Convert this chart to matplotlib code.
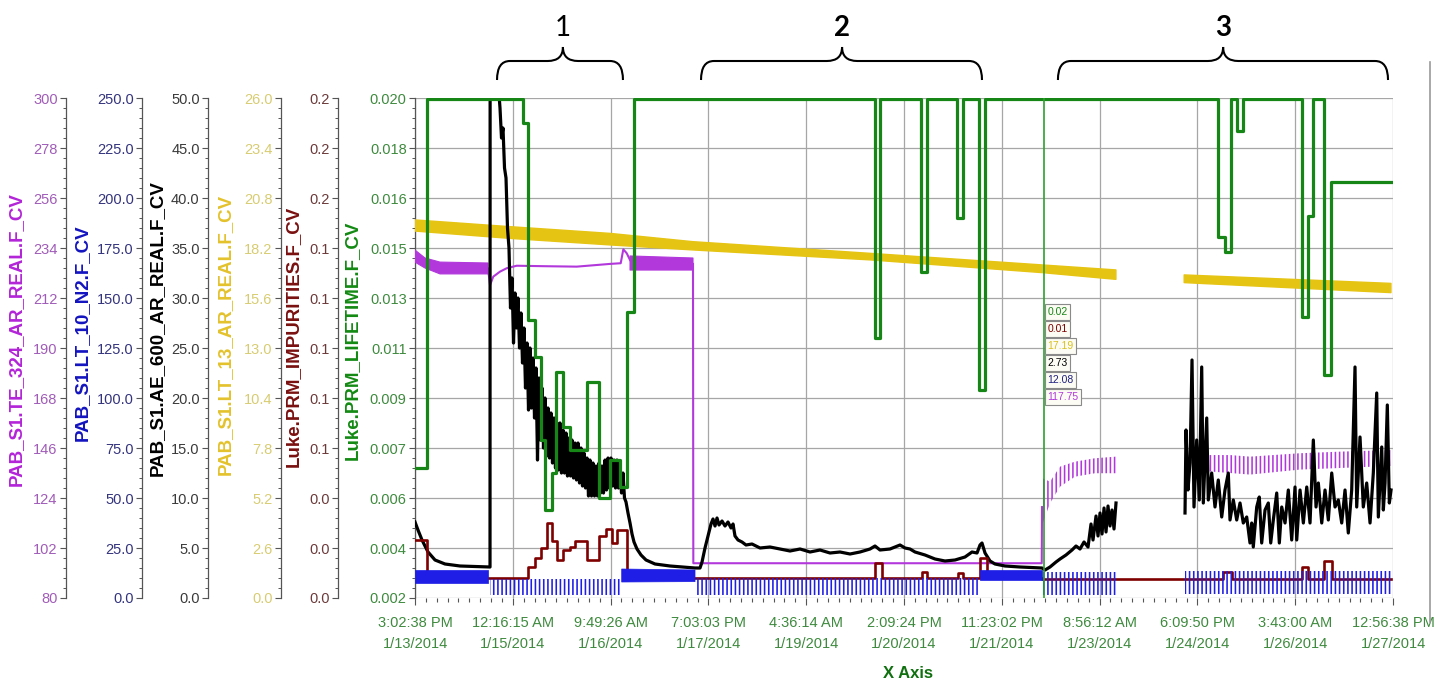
import numpy as np
import matplotlib
matplotlib.use("Agg")
import matplotlib.pyplot as plt
import matplotlib.transforms as mtransforms
from matplotlib.ticker import AutoMinorLocator, FormatStrFormatter
from matplotlib.path import Path
from matplotlib.patches import PathPatch
from matplotlib.lines import Line2D

plt.rcParams['font.family'] = ['Liberation Sans', 'DejaVu Sans']
plt.rcParams['hatch.linewidth'] = 1.15
nan = np.nan

# ---------------- x axis: hours since 1/13/2014 3:02:38 PM ----------------
x_span_hours = 333.9
x_tick_labels = ["3:02:38 PM\n1/13/2014", "12:16:15 AM\n1/15/2014", "9:49:26 AM\n1/16/2014",
                 "7:03:03 PM\n1/17/2014", "4:36:14 AM\n1/19/2014", "2:09:24 PM\n1/20/2014",
                 "11:23:02 PM\n1/21/2014", "8:56:12 AM\n1/23/2014", "6:09:50 PM\n1/24/2014",
                 "3:43:00 AM\n1/26/2014", "12:56:38 PM\n1/27/2014"]

# ---------------- y axis ranges ----------------
purple_range = (80, 300)
blue_range = (0, 250)
black_range = (0, 50)
yellow_range = (0, 26)
red_range = (0, 0.2)
green_range = (0.002, 0.020)

# ---------------- Luke.PRM_LIFETIME.F_CV (green, step) ----------------
green_t = [0, 4.10, 36.77, 38.68, 40.97, 42.92, 44.38, 46.67, 48.14, 50.43, 52.92, 58.62,
           62.82, 66.58, 69.99, 72.28, 74.77, 157.05, 158.76, 172.76, 174.81, 184.95, 186.99,
           192.56, 194.61, 274.25, 276.54, 278.59, 280.54, 282.79, 302.74, 304.79, 306.7,
           310.46, 312.74, 333.23]
green_v = [0.00669, 0.01995, 0.01911, 0.01201, 0.01069, 0.00769, 0.00517, 0.00649, 0.01015,
           0.00817, 0.00733, 0.00979, 0.00559, 0.00697, 0.00601, 0.01231, 0.01995, 0.01135,
           0.01995, 0.01375, 0.01995, 0.01567, 0.01995, 0.00949, 0.01995, 0.01501, 0.01447,
           0.01995, 0.01882, 0.01995, 0.01213, 0.01575, 0.01995, 0.01003, 0.01699, 0.01699]

# ---------------- Luke.PRM_IMPURITIES.F_CV (dark red, step) ----------------
red_t = [0, 3.99, 38.68, 40.97, 42.92, 44.97, 46.67, 48.38, 50.63, 52.92, 54.63, 58.62, 62.82,
         65.21, 67.16, 68.86, 72.28, 157.05, 159.34, 173.0, 174.81, 185.39, 187.1, 192.9,
         195.19, 214.07, 275.86, 278.93, 302.74, 305.0, 310.36, 312.98, 333.23]
red_v = [0.0232, 0.0080, 0.0125, 0.0159, 0.0199, 0.0299, 0.0229, 0.0152, 0.0192, 0.0205,
         0.0229, 0.0152, 0.0248, 0.0275, 0.0219, 0.0272, 0.0080, 0.0139, 0.0080, 0.0105,
         0.0080, 0.0099, 0.0080, 0.0159, 0.0080, 0.0075, 0.0105, 0.0075, 0.0125, 0.0075,
         0.0149, 0.0075, 0.0075]

# ---------------- PAB_S1.LT_13_AR_REAL.F_CV (yellow band) ----------------
yellow_t = [0, 32.4, 66.6, 94.8, 155.6, 214.1, 239.3, nan, 262.6, 333.2]
yellow_hi = [19.66, 19.31, 18.96, 18.53, 17.92, 17.32, 17.06, nan, 16.80, 16.36]
yellow_lo = [19.08, 18.70, 18.36, 18.10, 17.58, 16.92, 16.57, nan, 16.40, 15.88]

# ---------------- PAB_S1.LT_10_N2.F_CV (blue) ----------------
# dense (solid-looking) oscillation segments
blue_dense_t = [0, 24.92, nan, 70.57, 95.6, nan, 192.9, 214.07]
blue_dense_hi = [14.0, 14.0, nan, 14.5, 14.0, nan, 14.0, 14.0]
blue_dense_lo = [7.5, 7.5, nan, 8.0, 8.2, nan, 9.0, 9.0]
# sawtooth segments
blue_saw_t = [25.61, 70.57, nan, 95.6, 192.9, nan, 214.07, 239.33, nan, 262.89, 333.23]
blue_saw_hi = [9.5, 9.5, nan, 10.2, 10.2, nan, 13.0, 13.0, nan, 13.5, 13.5]
blue_saw_lo = [1.5, 1.5, nan, 1.5, 1.5, nan, 1.3, 1.3, nan, 2.0, 2.0]

# ---------------- PAB_S1.TE_324_AR_REAL.F_CV (purple) ----------------
purple_dense_t = [0, 3.41, 8.54, 24.92, nan, 73.41, 94.91]
purple_dense_hi = [233.1, 229.6, 227.8, 227.4, nan, 230.5, 229.6]
purple_dense_lo = [227.8, 225.2, 222.6, 222.6, nan, 224.3, 224.3]
purple_line_t = [24.92, 25.61, 26.73, 29.02, 31.31, 34.72, 43.8, 55.21, 66.58, 70.23, 71.12,
                 72.28, 73.41, nan, 94.91, 95.02, 213.97, 214.07]
purple_line_v = [225.0, 217.7, 221.4, 223.6, 225.1, 226.2, 226.0, 225.8, 227.0, 227.3, 233.4,
                 231.7, 228.7, nan, 227.0, 95.3, 95.3, 120.0]
purple_saw_t = [214.07, 216.8, 220.22, 225.34, 232.17, 239.33, nan, 262.89, 278.25, 285.08,
                302.16, 315.81, 333.23]
purple_saw_hi = [132.8, 131.2, 137.8, 140.0, 141.5, 142.2, nan, 142.9, 142.9, 142.2, 143.7,
                 144.4, 145.1]
purple_saw_lo = [112.0, 121.7, 129.0, 133.4, 134.9, 134.9, nan, 136.5, 135.0, 134.3, 136.5,
                 137.2, 138.1]

# ---------------- PAB_S1.AE_600_AR_REAL.F_CV (black) ----------------
black_t = [0, 1.02, 2.39, 4.44, 6.83, 10.24, 15.36, 24.92, 25.61, 25.65, 28.00,
           28.51, 29.02, 29.53, 30.04, 30.56, 31.07, 31.58, 32.09, 32.60, 33.12, 33.63, 34.14,
           34.65, 35.16, 35.68, 36.19, 36.70, 37.21, 37.72, 38.24, 38.75, 39.26, 39.77, 40.28,
           40.80, 41.31, 41.82, 42.33, 42.84, 43.36, 43.87, 44.38, 44.89, 45.40, 45.92, 46.43,
           46.94, 47.45, 47.96, 48.48, 48.99, 49.50, 50.01, 50.53, 51.04, 51.55, 52.06, 52.57,
           53.09, 53.60, 54.11, 54.62, 55.13, 55.65, 56.16, 56.67, 57.18, 57.70, 58.21, 58.72,
           59.23, 59.74, 60.26, 60.77, 61.28, 61.79, 62.30, 62.82, 63.33, 63.84, 64.35, 64.87,
           65.38, 65.89, 66.40, 66.91, 67.43, 67.94, 68.45, 68.96, 69.47, 69.99, 70.50, 71.01,
           71.52, 72.04, 72.72, 73.41, 74.09, 74.77, 75.79, 77.16, 78.87, 81.94, 87.06, 95.6,
           97.3, 97.99, 99.01, 100.04, 101.06, 101.74, 102.43, 103.11, 103.79, 104.82, 105.84,
           106.86, 107.89, 108.57, 109.25, 110.28, 111.64, 113.01, 115.06, 117.79, 121.2,
           124.62, 128.03, 131.45, 134.86, 138.27, 141.69, 145.1, 148.52, 151.93, 155.35,
           157.05, 158.76, 162.17, 165.59, 167.3, 169.0, 170.71, 174.12, 177.54, 180.95,
           184.37, 187.78, 190.17, 191.88, 192.9, 193.58, 194.61, 196.32, 198.02, 201.44,
           206.56, 214.07, 215.09, 216.8, 218.85, 220.22, 222.26, 224.31, 225.68, 227.04,
           228.41, 229.78, 230.8, 231.48, 232.51, 233.19, 233.87, 234.56, 235.24, 235.92,
           236.6, 237.29, 237.97, 238.65, 239.33, nan,
           262.89, 263.23, 263.91, 264.6, 265.28, 265.96, 266.88, 267.77, 268.59, 269.14,
           270.3, 270.84, 272.0, 273.13, 274.25, 275.42, 276.54, 277.67, 278.25, 279.38,
           280.54, 281.67, 282.79, 283.95, 285.08, 285.66, 286.2, 287.37, 288.25, 289.07,
           290.21, 291.33, 292.15, 293.04, 294.2, 295.09, 295.91, 297.04, 298.16, 299.32,
           300.45, 301.03, 302.16, 303.29, 304.45, 305.57, 306.7, 307.62, 308.41, 309.57,
           310.69, 311.82, 312.98, 314.11, 315.23, 316.39, 317.52, 318.64, 319.8, 320.93,
           321.51, 322.64, 323.76, 324.92, 326.06, 327.18, 328.34, 328.89, 330.05, 330.6,
           331.18, 331.96, 332.65, 333.23]
black_v = [7.6, 6.8, 5.8, 4.6, 3.8, 3.4, 3.2, 3.1, 3.1, 58.0, 55.0,
           51.0, 49.0, 46.0, 47.0, 43.0, 42.0, 37.0, 35.0, 29.0, 32.0, 25.5, 30.5,
           27.0, 30.0, 25.0, 28.5, 23.5, 27.0, 21.0, 25.5, 18.8, 25.0, 19.0, 24.0,
           18.0, 23.0, 13.8, 22.0, 15.8, 21.0, 15.0, 20.0, 14.2, 19.0, 14.0, 18.5,
           13.5, 18.0, 13.0, 17.5, 12.8, 17.5, 12.5, 16.8, 12.5, 16.5, 12.2, 16.0,
           12.2, 15.8, 12.0, 15.5, 11.8, 15.5, 11.5, 15.0, 11.2, 14.5, 11.0, 14.0,
           10.2, 13.8, 10.2, 13.5, 10.2, 13.2, 10.2, 13.5, 10.5, 13.2, 10.5, 13.8,
           10.8, 14.0, 11.0, 14.0, 11.2, 13.8, 11.0, 13.8, 11.0, 13.2, 10.5, 12.5,
           10.0, 9.6, 8.5, 7.5, 6.4, 5.6, 4.9, 4.3, 3.8, 3.4, 3.2, 3.0,
           3.0, 3.6, 5.0, 6.2, 7.4, 7.9, 7.2, 8.0, 7.3, 7.7, 7.2,
           7.6, 7.0, 7.4, 6.2, 5.8, 5.6, 5.3, 5.4, 5.0, 5.1,
           4.9, 4.7, 4.9, 4.6, 4.8, 4.5, 4.6, 4.4, 4.6, 4.9,
           5.2, 4.8, 4.9, 5.3, 5.0, 4.9, 4.6, 4.3, 3.9, 3.7,
           3.8, 4.1, 4.6, 4.5, 5.3, 5.5, 4.5, 3.7, 3.4, 3.2,
           3.1, 3.0, 2.8, 3.1, 3.6, 3.9, 4.3, 4.8, 5.2, 4.9,
           5.6, 5.1, 7.4, 5.8, 8.2, 6.2, 8.5, 6.4, 9.0, 6.6,
           9.2, 7.2, 8.8, 6.9, 9.5, nan,
           8.5, 16.8, 10.8, 13.5, 23.8, 9.1, 15.8, 9.8, 23.1, 9.5,
           18.0, 9.8, 12.5, 9.1, 11.8, 8.1, 10.8, 12.5, 7.8, 9.8,
           7.8, 9.5, 7.5, 8.1, 5.5, 7.5, 5.1, 9.1, 10.1, 5.5,
           8.8, 9.5, 5.5, 7.8, 10.5, 5.5, 9.1, 7.5, 10.8, 5.8,
           11.1, 5.8, 10.8, 7.5, 11.1, 7.5, 15.8, 9.1, 11.5, 7.5,
           10.8, 7.8, 12.5, 9.1, 9.8, 7.5, 10.8, 6.5, 10.8, 23.1,
           9.1, 16.1, 9.1, 11.5, 7.5, 12.5, 20.5, 8.1, 15.1, 8.8,
           11.5, 19.3, 9.5, 10.8]

# ---------------- cursor readout ----------------
cursor_t = 214.58
cursor_values = ["0.02", "0.01", "17.19", "2.73", "12.08", "117.75"]

# ---------------- annotation braces ----------------
brace_labels = ["1", "2", "3"]
brace_left = [28.0, 97.65, 219.5]
brace_right = [71.0, 193.58, 332.2]
brace_tip = [50.5, 145.8, 275.9]

# ---------------- colours ----------------
c_purple, c_purple_lab, c_purple_tk = '#b238dc', '#b324d8', '#a05cb8'
c_blue, c_blue_lab, c_blue_tk = '#1e1ee6', '#1414c0', '#34347e'
c_black, c_black_lab, c_black_tk = '#000000', '#000000', '#3a3a3a'
c_yellow, c_yellow_lab, c_yellow_tk = '#e6c414', '#e3c22c', '#d8cc72'
c_red, c_red_lab, c_red_tk = '#7f0000', '#7a1010', '#6c3a3a'
c_green, c_green_lab, c_green_tk = '#168616', '#138a13', '#3e8a3e'
spine_c = '#555555'
grid_c = '#a6a6a6'

fig = plt.figure(figsize=(14.5, 6.86), dpi=100)
ax0 = fig.add_axes([0.28621, 0.12828, 0.67448, 0.72886])
ax0.set_xlim(0, x_span_hours)
ax0.set_ylim(*green_range)

# grid & frame
xt = np.linspace(0, x_span_hours, 11)
ax0.set_xticks(xt)
ax0.set_xticklabels(x_tick_labels, fontsize=10.5, color=c_green_tk, linespacing=1.6)
ax0.xaxis.set_minor_locator(AutoMinorLocator(9))
ax0.tick_params(axis='x', which='major', direction='out', length=5, width=0.8, color=spine_c, pad=8)
ax0.tick_params(axis='x', which='minor', direction='out', length=3, width=0.8, color=spine_c)
ax0.grid(True, which='major', color=grid_c, lw=0.9)
ax0.set_axisbelow(True)
for s in ['top', 'right', 'bottom', 'left']:
    ax0.spines[s].set_color(spine_c if s in ('left', 'bottom') else grid_c)
    ax0.spines[s].set_linewidth(0.9)
ax0.set_xlabel("X Axis", fontsize=12, fontweight='bold', color='#107010')
ax0.xaxis.set_label_coords(0.504, -0.152)
ax0.xaxis.label.set_va('center')


def style_y(ax, rng, fmt, pos, lab, lab_x, lab_y, clab, ctk):
    ax.set_ylim(*rng)
    ax.set_yticks(np.linspace(rng[0], rng[1], 11))
    ax.yaxis.set_major_formatter(FormatStrFormatter(fmt))
    ax.yaxis.set_minor_locator(AutoMinorLocator(5))
    ax.yaxis.tick_left()
    ax.yaxis.set_label_position('left')
    for s in ['top', 'right', 'bottom']:
        ax.spines[s].set_visible(False)
    ax.spines['left'].set_visible(True)
    ax.spines['left'].set_position(('axes', pos))
    ax.spines['left'].set_color(spine_c)
    ax.spines['left'].set_linewidth(0.9)
    ax.tick_params(axis='y', which='major', direction='out', length=4.5, width=0.8,
                   color=spine_c, labelsize=10.5, labelcolor=ctk, pad=1.5)
    ax.tick_params(axis='y', which='minor', direction='out', length=2.5, width=0.7,
                   color=spine_c)
    ax.set_ylabel(lab, fontsize=13.5, fontweight='bold', color=clab)
    ax.yaxis.label.set_rotation_mode('default')
    ax.yaxis.label.set_va('center')
    ax.yaxis.label.set_ha('center')
    ax.yaxis.set_label_coords(lab_x, lab_y)


style_y(ax0, green_range, '%.3f', 0.0, 'Luke.PRM_LIFETIME.F_CV', -0.0644, 0.516, c_green_lab, c_green_tk)

ax_y = ax0.twinx()
style_y(ax_y, yellow_range, '%.1f', -0.1370, 'PAB_S1.LT_13_AR_REAL.F_CV', -0.1943, 0.528, c_yellow_lab, c_yellow_tk)
ax_p = ax0.twinx()
style_y(ax_p, purple_range, '%.0f', -0.3569, 'PAB_S1.TE_324_AR_REAL.F_CV', -0.408, 0.518, c_purple_lab, c_purple_tk)
ax_k = ax0.twinx()
style_y(ax_k, black_range, '%.1f', -0.2117, 'PAB_S1.AE_600_AR_REAL.F_CV', -0.2638, 0.54, c_black_lab, c_black_tk)
ax_r = ax0.twinx()
style_y(ax_r, red_range, '%.1f', -0.0787, 'Luke.PRM_IMPURITIES.F_CV', -0.1247, 0.524, c_red_lab, c_red_tk)
ax_b = ax0.twinx()
style_y(ax_b, blue_range, '%.1f', -0.2791, 'PAB_S1.LT_10_N2.F_CV', -0.3405, 0.53, c_blue_lab, c_blue_tk)
ax_g = ax0.twinx()
ax_g.set_ylim(*green_range)
ax_g.yaxis.set_visible(False)
for s in ax_g.spines.values():
    s.set_visible(False)

# ---- series ----
ax_y.fill_between(yellow_t, yellow_lo, yellow_hi, color=c_yellow, lw=1.0)

ax_p.fill_between(purple_dense_t, purple_dense_lo, purple_dense_hi, color=c_purple, lw=0.8)
ax_p.plot(purple_line_t, purple_line_v, color=c_purple, lw=1.5)
ax_p.fill_between(purple_saw_t, purple_saw_lo, purple_saw_hi, facecolor='none',
                  edgecolor=c_purple, hatch='||||', lw=0)

ax_k.plot(black_t, black_v, color=c_black, lw=2.3)

ax_r.plot(red_t, red_v, drawstyle='steps-post', color=c_red, lw=1.9)

ax_b.fill_between(blue_dense_t, blue_dense_lo, blue_dense_hi, color=c_blue, lw=0.5)
ax_b.fill_between(blue_saw_t, blue_saw_lo, blue_saw_hi, facecolor='none',
                  edgecolor=c_blue, hatch='||||', lw=0)

ax_g.plot(green_t, green_v, drawstyle='steps-post', color=c_green, lw=2.3)

# cursor + readout boxes
ax_g.axvline(cursor_t, color='#2ea02e', lw=1.2)
trans_g = mtransforms.blended_transform_factory(ax_g.transData, ax_g.transAxes)
box_colors = [c_green, c_red, '#d8c020', '#000000', '#202080', c_purple]
for i, (txt, col) in enumerate(zip(cursor_values, box_colors)):
    ax_g.text(cursor_t + 1.3, 0.572 - i * 0.034, txt, transform=trans_g, fontsize=7.5,
              color=col, ha='left', va='center',
              bbox=dict(boxstyle='square,pad=0.25', fc='#fcfcf4', ec='#8a8a8a', lw=0.8))

# braces
trans_b = mtransforms.blended_transform_factory(ax0.transData, ax0.transAxes)
y_end, y_mid, y_tip = 1.036, 1.074, 1.102
r_end, r_tip = 4.4, 5.2
for lab, x0, x1, xc in zip(brace_labels, brace_left, brace_right, brace_tip):
    verts = [(x0, y_end), (x0, y_mid), (x0 + r_end, y_mid),
             (xc - r_tip, y_mid),
             (xc, y_mid), (xc, y_tip),
             (xc, y_mid), (xc + r_tip, y_mid),
             (x1 - r_end, y_mid),
             (x1, y_mid), (x1, y_end)]
    codes = [Path.MOVETO, Path.CURVE3, Path.CURVE3, Path.LINETO, Path.CURVE3, Path.CURVE3,
             Path.CURVE3, Path.CURVE3, Path.LINETO, Path.CURVE3, Path.CURVE3]
    ax0.add_patch(PathPatch(Path(verts, codes), transform=trans_b, fc='none', ec='black',
                            lw=1.5, clip_on=False))
    ax0.text(xc, 1.14, lab, transform=trans_b, ha='center', va='center', fontsize=20,
             family=['Lato', 'DejaVu Sans'], fontweight='normal' if lab == '1' else 'bold',
             color='black', clip_on=False)

# right window border
fig.add_artist(Line2D([1430 / 1450, 1430 / 1450], [1 - 62 / 686, 1 - 622 / 686],
                      transform=fig.transFigure, color='#9a9a9a', lw=1.2))

fig.savefig('out.png', dpi=100)
